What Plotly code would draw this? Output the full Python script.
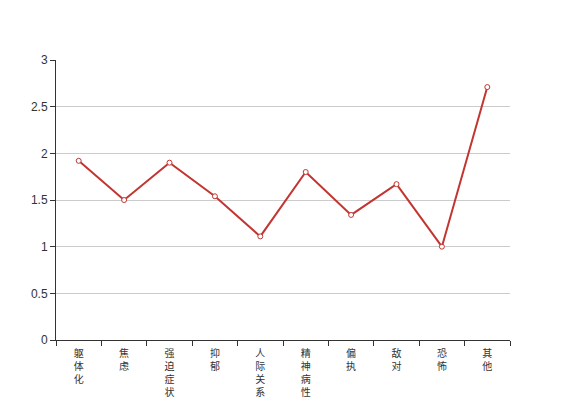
import plotly.graph_objects as go

categories = ["躯体化", "焦虑", "强迫症状", "抑郁", "人际关系敏感", "精神病性", "偏执", "敌对", "恐怖", "其他"]
values = [1.92, 1.50, 1.90, 1.54, 1.11, 1.80, 1.34, 1.67, 1.00, 2.71]
y_ticks = [0, 0.5, 1, 1.5, 2, 2.5, 3]
y_tick_labels = ["0", "0.5", "1", "1.5", "2", "2.5", "3"]

tick_text = ["<br>".join(list(c)) for c in categories]

fig = go.Figure()
fig.add_trace(go.Scatter(
    x=categories, y=values, mode="lines+markers",
    line=dict(color="#c23531", width=2),
    marker=dict(symbol="circle", size=5, color="white",
                line=dict(color="#c23531", width=1)),
    cliponaxis=False, showlegend=False,
))

fig.update_layout(
    width=567, height=400,
    margin=dict(l=48, r=65, t=52, b=68),
    paper_bgcolor="white", plot_bgcolor="white",
    font=dict(family="Liberation Sans, Noto Sans CJK SC, sans-serif", size=12, color="#333"),
    xaxis=dict(
        type="category", tickmode="array", tickvals=categories, ticktext=tick_text,
        tickson="boundaries", ticks="outside", ticklen=5, tickcolor="#333",
        showline=True, linecolor="#333", linewidth=1, showgrid=False,
        tickfont=dict(size=10, color="#333", family="Noto Sans CJK SC, sans-serif"),
        tickangle=0, range=[-0.5, 9.5], fixedrange=True, automargin=False,
        ticklabelstandoff=4,
    ),
    yaxis=dict(
        range=[0, 3], tickmode="array", tickvals=y_ticks, ticktext=y_tick_labels,
        ticks="outside", ticklen=5, tickcolor="#333",
        showline=True, linecolor="#333", linewidth=1,
        showgrid=True, gridcolor="#ccc", gridwidth=1, zeroline=False,
        tickfont=dict(size=12, color="#333"), automargin=False,
    ),
)

fig.write_html("out.html")
